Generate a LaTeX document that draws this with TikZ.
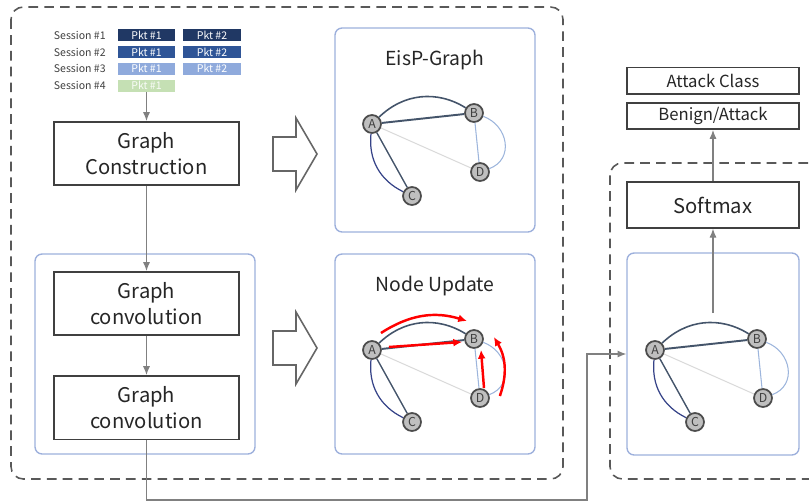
\documentclass[tikz,border=0pt]{standalone}
\usepackage{fontspec}
\setmainfont{Noto Sans CJK KR}
\usepackage{tikz}
\usetikzlibrary{positioning,calc}
\usetikzlibrary{arrows.meta}

\definecolor{pktA}{HTML}{203864}
\definecolor{pktB}{HTML}{2F5597}
\definecolor{pktC}{HTML}{8FAADC}
\definecolor{pktD}{HTML}{C5E0B4}
\definecolor{frameblue}{HTML}{9DB0DC}
\definecolor{edgedark}{HTML}{44546A}
\definecolor{edgelight}{HTML}{9DB5DC}
\definecolor{edgegray}{HTML}{DADADA}
\definecolor{flowgray}{HTML}{808080}
\definecolor{txt}{HTML}{262626}

\tikzset{
  block/.style={draw=black!75, line width=0.9pt, align=center, text=txt,
    minimum width=3.7cm, minimum height=1.27cm, inner sep=1pt,
    font=\fontsize{11.5}{14.8}\selectfont},
  outbox/.style={draw=black!75, line width=0.9pt, text=txt, minimum width=3.44cm,
    minimum height=0.53cm, inner sep=1pt, font=\fontsize{9.5}{11}\selectfont},
  panel/.style={draw=frameblue, line width=0.8pt, rounded corners=4pt},
  dashbox/.style={draw=black!65, line width=0.9pt, rounded corners=7pt,
    dash pattern=on 5.5pt off 3.5pt},
  gnode/.style={circle, draw=black!70, fill=black!25, line width=1pt, inner sep=0pt,
    minimum size=0.36cm, text=black!75, font=\fontsize{7}{7}\selectfont},
  pkt/.style={minimum width=1.16cm, minimum height=0.24cm, inner sep=0pt,
    text=white, font=\fontsize{6}{6}\selectfont},
  sess/.style={anchor=east, inner sep=0pt, text=black!75, font=\fontsize{6}{6}\selectfont},
  title/.style={text=txt, font=\fontsize{11}{13}\selectfont},
  flow/.style={-{Latex[length=5pt,width=4pt]}, draw=flowgray, line width=0.6pt},
  upd/.style={-{Latex[length=5pt,width=4.5pt]}, draw=red, line width=1.4pt},
  harrow/.style={draw=black!60, line width=0.9pt, fill=white, line join=miter},
}

% small graph A-B-C-D, #1 = name prefix, #2 = shift
\newcommand\abcdgraph[2]{%
  \begin{scope}[shift={(#2)}]
    \node[gnode] (#1A) at (372,124) {A};
    \node[gnode] (#1B) at (474,113) {B};
    \node[gnode] (#1C) at (412,196) {C};
    \node[gnode] (#1D) at (480,172) {D};
  \end{scope}
  \draw[edgegray, line width=0.6pt] (#1A) -- (#1D);
  \draw[edgelight, line width=0.6pt] (#1B) -- (#1D);
  \draw[edgelight, line width=0.6pt] (#1B) to[out=-20, in=20, looseness=1.3] (#1D);
  \draw[edgedark, line width=1.1pt] (#1A) -- (#1B);
  \draw[edgedark, line width=0.9pt] (#1A) to[bend left=38] (#1B);
  \draw[edgedark, line width=0.8pt] (#1A) -- (#1C);
  \draw[edgedark!80!blue, line width=0.7pt] (#1A) to[bend right=35] (#1C);
}

\begin{document}
\begin{tikzpicture}[x=0.02cm, y=-0.02cm]
	\useasboundingbox (0,0) rectangle (809,504);
	\clip (0,0) rectangle (809,504);

	% dashed groups and panels
	\draw[dashbox] (11,7) rectangle (563,479);
	\draw[dashbox] (610,163) rectangle (850,479);
	\node[panel, minimum width=4.4cm, minimum height=4cm] (convpanel) at (145,354) {};
	\node[panel, minimum width=4cm, minimum height=4.08cm] (eisppanel) at (435,130) {};
	\node[panel, minimum width=4cm, minimum height=4cm] (updpanel) at (435,354) {};
	\node[panel, minimum width=3.44cm, minimum height=4.04cm] (gnnpanel) at (713,354) {};

	% sessions and packets
	\foreach \i/\c/\y in {1/pktA/35,2/pktB/52,3/pktC/68.5} {
	    \node[sess] (s\i) at (106,\y) {Session \#\i};
	    \node[pkt, fill=\c] (pa\i) at (146.5,\y) {Pkt \#1};
	    \node[pkt, fill=\c] (pb\i) at (212,\y) {Pkt \#2};
	}
	\node[sess] (s4) at (106,85.5) {Session \#4};
	\node[pkt, fill=pktD, text=white!90!pktD] (pa4) at (146.5,85.5) {Pkt \#1};

	% left column
	\node[block] (gc) at (146.5,153.5) {Graph\\Construction};
	\node[block] (conv1) at (146.5,303.5) {Graph\\convolution};
	\node[block, below=0.78cm of conv1] (conv2) {Graph\\convolution};

	% hollow arrows
	\foreach \yy in {154,348}
	    \draw[harrow] (273,\yy-17) -- (296,\yy-17) -- (296,\yy-36) -- (317,\yy)
	        -- (296,\yy+36) -- (296,\yy+17) -- (273,\yy+17) -- cycle;

	% graphs
	\node[title] (t1) at (435,60) {EisP-Graph};
	\node[title] (t2) at (435,286) {Node Update};
	\abcdgraph{e}{0,0}
	\abcdgraph{n}{0,226}
	\abcdgraph{g}{283,226}

	% message passing
	\draw[upd] ([shift={(2,-10)}]nA.north east) to[bend left=25] ([shift={(0,-11)}]nB.north west);
	\draw[upd] ([shift={(7,-3)}]nA.east) -- ([shift={(-2,3)}]nB.west);
	\draw[upd] ([shift={(4,0)}]nD.north) -- ([shift={(7,1)}]nB.south);
	\draw[upd] ([shift={(10,-2)}]nD.east) to[bend right=25] ([shift={(10,-2)}]nB.east);

	% output side
	\node[block, minimum width=3.44cm, minimum height=0.92cm] (soft) at (713,205) {Softmax};
	\node[outbox] (benign) at (713,116) {Benign/Attack};
	\node[outbox, above=0.14cm of benign] (attack) {Attack Class};

	% connections
	\draw[flow] (pa4) -- (gc);
	\draw[flow] (gc) -- (conv1);
	\draw[flow] (conv1) -- (conv2);
	\coordinate (low) at (587,500);
	\draw[flow] (conv2.south) |- (low) |- (gnnpanel.west);
	\coordinate (gout) at (713,313);
	\draw[flow] (gout) -- (soft);
	\draw[flow] (soft) -- (benign);

\end{tikzpicture}
\end{document}
